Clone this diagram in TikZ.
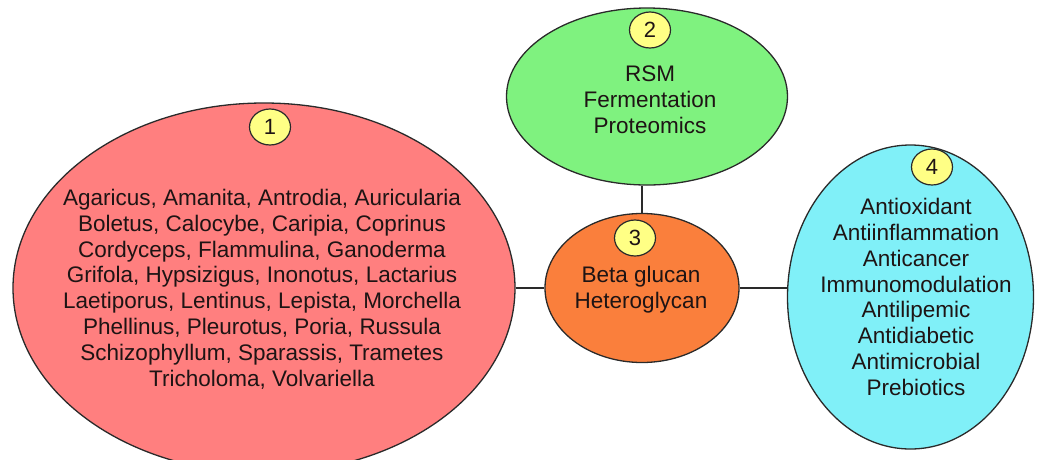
\documentclass[tikz,border=0pt]{standalone}
\usepackage{fontspec}
\setmainfont{Liberation Sans}
\usetikzlibrary{shapes.geometric}
\definecolor{redfill}{HTML}{FF7F7F}
\definecolor{greenfill}{HTML}{7FF27F}
\definecolor{orangefill}{HTML}{FA7F3C}
\definecolor{cyanfill}{HTML}{80F0F8}
\definecolor{yellowfill}{HTML}{FFFF85}
\definecolor{edge}{HTML}{2A2A2A}
\definecolor{txt}{HTML}{1E1414}
\tikzset{
  blob/.style={ellipse, draw=edge, line width=1.3pt, inner sep=0pt},
  numbox/.style={ellipse, draw=edge, line width=1.2pt, fill=yellowfill, inner sep=0pt,
    minimum width=41pt, minimum height=36pt, font=\fontsize{22}{24}\selectfont, text=txt},
  label/.style={align=center, inner sep=0pt, text=txt, font=\fontsize{22.5}{25.8}\selectfont},
  link/.style={draw=edge, line width=1.3pt}
}
\begin{document}
\begin{tikzpicture}[x=1pt,y=-1pt]
\useasboundingbox (0,0) rectangle (1037,459);
\begin{scope}
\clip (0,0) rectangle (1037,459);
\node[blob, fill=redfill, minimum width=502pt, minimum height=370pt] (e1) at (264,288) {};
\end{scope}
\node[blob, fill=greenfill, minimum width=281pt, minimum height=177pt] (e2) at (647,96.5) {};
\node[blob, fill=orangefill, minimum width=194pt, minimum height=149pt] (e3) at (642,288) {};
\node[blob, fill=cyanfill, minimum width=246pt, minimum height=304pt] (e4) at (910.5,297) {};

\coordinate (e3top) at (642,213);
\draw[link] (e1.east) -- (e1.east -| e3.west);
\draw[link] (e3.east) -- (e3.east -| e4.west);
\draw[link] (e3top) -- (e3top |- e2.south);

\node[numbox] (n1) at (270,127) {1};
\node[numbox] (n2) at (650,30) {2};
\node[numbox] (n3) at (635,238) {3};
\node[numbox] (n4) at (932,167) {4};

\node[label] (t1) at (262,289) {Agaricus, Amanita, Antrodia, Auricularia\\Boletus, Calocybe, Caripia, Coprinus\\Cordyceps, Flammulina, Ganoderma\\Grifola, Hypsizigus, Inonotus, Lactarius\\Laetiporus, Lentinus, Lepista, Morchella\\Phellinus, Pleurotus, Poria, Russula\\Schizophyllum, Sparassis, Trametes\\Tricholoma, Volvariella};
\node[label] (t2) at (650,100) {RSM\\Fermentation\\Proteomics};
\node[label] (t3) at (641,290) {Beta glucan\\Heteroglycan};
\node[label] (t4) at (916,297) {Antioxidant\\Antiinflammation\\Anticancer\\Immunomodulation\\Antilipemic\\Antidiabetic\\Antimicrobial\\Prebiotics};
\end{tikzpicture}
\end{document}
